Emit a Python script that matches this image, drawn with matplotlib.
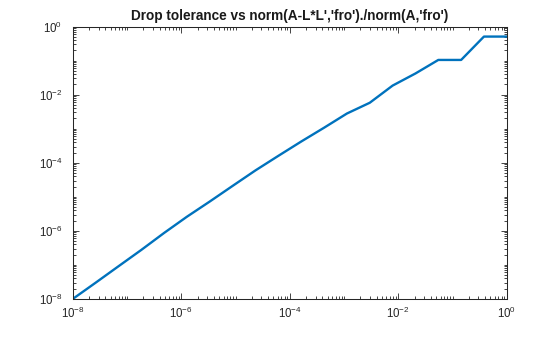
import numpy as np
import matplotlib
matplotlib.use("Agg")
import matplotlib.pyplot as plt
from matplotlib.ticker import LogLocator, FuncFormatter, NullFormatter

plt.rcParams['font.family'] = ['Liberation Sans', 'DejaVu Sans']
plt.rcParams['mathtext.fontset'] = 'custom'
plt.rcParams['mathtext.rm'] = 'Liberation Sans'
plt.rcParams['mathtext.default'] = 'regular'

# Drop tolerance values
drop_tol = [1.0e-8, 2.64e-8, 6.95e-8, 1.83e-7, 4.83e-7, 1.27e-6, 3.36e-6,
            8.86e-6, 2.34e-5, 6.16e-5, 1.62e-4, 4.28e-4, 1.13e-3, 2.98e-3,
            7.85e-3, 2.07e-2, 5.46e-2, 0.144, 0.379, 1.0]
# Relative Frobenius error
rel_err = [1.0e-8, 3.0e-8, 9.1e-8, 2.75e-7, 8.7e-7, 2.6e-6, 7.3e-6,
           2.1e-5, 6.0e-5, 1.6e-4, 4.2e-4, 1.07e-3, 2.8e-3, 5.8e-3,
           1.85e-2, 4.2e-2, 0.105, 0.105, 0.51, 0.51]

title = "Drop tolerance vs norm(A-L*L','fro')./norm(A,'fro')"

fig = plt.figure(figsize=(5.6, 3.37), dpi=100)
ax = fig.add_axes([0.13, 0.113, 0.775, 0.808])
ax.plot(drop_tol, rel_err, color='#0072BD', linewidth=1.7)
ax.set_xscale('log')
ax.set_yscale('log')
ax.set_xlim(1e-8, 1)
ax.set_ylim(1e-8, 1)

def fmt(v, pos):
    e = int(round(np.log10(v)))
    return r'$10^{%d}$' % e

for axis in (ax.xaxis, ax.yaxis):
    axis.set_major_locator(LogLocator(base=100, numticks=20))
    axis.set_minor_locator(LogLocator(base=10, subs=np.arange(1, 10), numticks=100))
    axis.set_major_formatter(FuncFormatter(fmt))
    axis.set_minor_formatter(NullFormatter())

edge = '#262626'
for s in ax.spines.values():
    s.set_color(edge)
    s.set_linewidth(0.75)
ax.tick_params(which='both', direction='in', top=True, right=True,
               color=edge, width=0.6, labelsize=8.3, labelcolor='#262626')
ax.tick_params(which='major', length=4)
ax.tick_params(which='minor', length=2.2)
ax.tick_params(axis='x', which='major', pad=5)
ax.tick_params(axis='y', which='major', pad=7.5)
ax.set_title(title, fontsize=9.8, fontweight='bold', color='#1a1a1a', pad=5)

fig.savefig('out.png', dpi=100)
